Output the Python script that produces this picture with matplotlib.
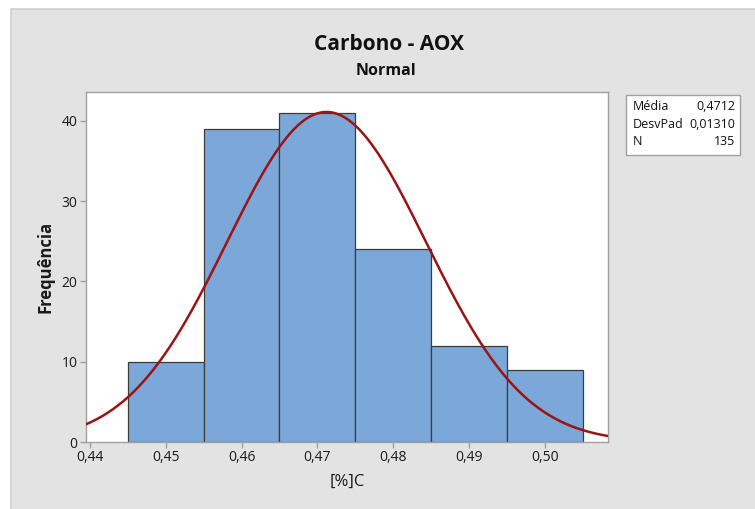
import numpy as np
import matplotlib
matplotlib.use("Agg")
import matplotlib.pyplot as plt
from matplotlib.patches import Rectangle
from matplotlib.ticker import FuncFormatter

# Data
bin_centers = [0.45, 0.46, 0.47, 0.48, 0.49, 0.50]
counts = [10, 39, 41, 24, 12, 9]
bin_width = 0.01
mean = 0.4712
sd = 0.01310
n = 135
x_ticks = [0.44, 0.45, 0.46, 0.47, 0.48, 0.49, 0.50]
y_ticks = [0, 10, 20, 30, 40]

plt.rcParams['font.family'] = ['Open Sans', 'DejaVu Sans']

W, H = 755, 509
fig = plt.figure(figsize=(W / 100, H / 100), dpi=100)
fig.patch.set_facecolor('white')

# gray panel
fig.patches.append(Rectangle((11 / W, -0.01), 1.02 - 11 / W, 1.01 - 9 / H, transform=fig.transFigure,
                             facecolor='#e3e3e3', edgecolor='#cfcfcf', linewidth=1.2, zorder=-5))

ax = fig.add_axes([86 / W, 1 - 442 / H, (608 - 86) / W, (442 - 92) / H])
ax.set_facecolor('white')

ax.bar(bin_centers, counts, width=bin_width, color='#7ba7d9', edgecolor='#3c3c3c',
       linewidth=0.9, zorder=2)

xs = np.linspace(0.4395, 0.5085, 400)
pdf = n * bin_width / (sd * np.sqrt(2 * np.pi)) * np.exp(-0.5 * ((xs - mean) / sd) ** 2)
ax.plot(xs, pdf, color='#9b1414', linewidth=1.8, zorder=3)

ax.set_xlim(0.4395, 0.5083)
ax.set_ylim(0, 43.6)
ax.set_xticks(x_ticks)
ax.set_yticks(y_ticks)
ax.xaxis.set_major_formatter(FuncFormatter(lambda v, p: f"{v:.2f}".replace('.', ',')))
for s in ax.spines.values():
    s.set_color('#a0a0a0')
    s.set_linewidth(1.0)
ax.tick_params(axis='both', direction='out', length=4, width=1, color='#a0a0a0',
               labelsize=10, labelcolor='#1a1a1a', pad=2)

ax.set_xlabel('[%]C', fontsize=12, color='#1a1a1a', labelpad=6)
ax.set_ylabel('Frequência', fontsize=12, color='#1a1a1a', fontweight='bold', labelpad=5)

fig.text(389 / W, 1 - 45 / H, 'Carbono - AOX', ha='center', va='center', fontsize=15,
         fontweight='bold', color='#111111')
fig.text(386 / W, 1 - 71 / H, 'Normal', ha='center', va='center', fontsize=11.5,
         fontweight='bold', color='#111111')

# stats box
bx0, by0, bx1, by1 = 626, 95, 740, 155
fig.patches.append(Rectangle((bx0 / W, 1 - by1 / H), (bx1 - bx0) / W, (by1 - by0) / H,
                             transform=fig.transFigure, facecolor='white',
                             edgecolor='#a0a0a0', linewidth=1.0, zorder=1))
labels = ['Média', 'DesvPad', 'N']
vals = [f"{mean:.4f}".replace('.', ','), f"{sd:.5f}".replace('.', ','), str(n)]
for i, (l, v) in enumerate(zip(labels, vals)):
    y = 1 - (106 + i * 18) / H
    fig.text(633 / W, y, l, ha='left', va='center', fontsize=9, color='#111111', zorder=2)
    fig.text(735 / W, y, v, ha='right', va='center', fontsize=9, color='#111111', zorder=2)

fig.savefig('out.png', dpi=100, facecolor=fig.get_facecolor())
